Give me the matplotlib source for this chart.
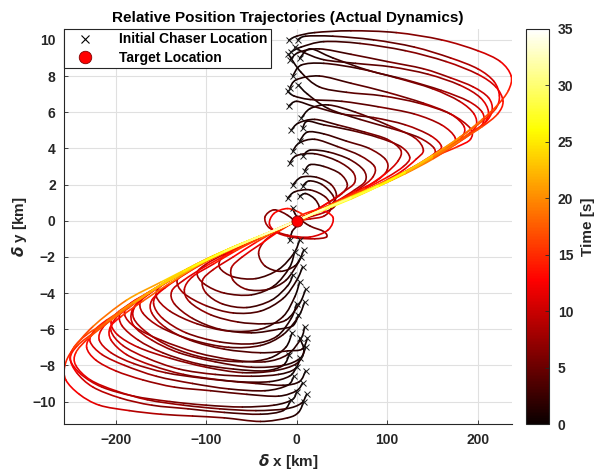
import numpy as np
import matplotlib
matplotlib.use("Agg")
import matplotlib.pyplot as plt
from matplotlib.collections import PatchCollection
from matplotlib.patches import PathPatch
from matplotlib.path import Path
from matplotlib.colors import Normalize
from matplotlib.cm import ScalarMappable
from matplotlib.lines import Line2D

plt.rcParams['font.family'] = ['Liberation Sans', 'DejaVu Sans']
plt.rcParams['font.weight'] = 'bold'
plt.rcParams['mathtext.fontset'] = 'dejavusans'

# ---------------- data: trajectories as (x [km], y [km], t [s]) ----------------
U01 = [(-8.5,9.98,0),(0,10.2,1),(20,10.4,2),(60,10.5,3.5),(110,10.4,5.5),(160,10.0,7.5),(200,9.4,9.5),(225,8.8,11.5),(237,8.0,13),(234,7.2,14.5),(222,6.4,16),(205,5.6,17.5),(180,4.6,19.5),(150,3.6,22),(120,2.7,24.5),(90,1.9,27),(60,1.25,29.5),(30,0.65,32),(0,0,34)]
U02 = [(-5.9,9.34,0),(5,9.6,1),(30,9.9,2),(70,9.8,3.5),(120,9.4,5.5),(165,8.8,7.5),(200,8.1,9.5),(220,7.4,11.5),(228,6.6,13),(222,5.9,14.5),(205,5.2,16),(180,4.4,18),(150,3.5,20.5),(120,2.65,23),(90,1.9,25.5),(60,1.25,28),(30,0.65,30.5),(0,0,32.5)]
U03 = [(1,10.0,0),(10,10.2,1),(40,10.2,2.5),(85,10.0,4),(130,9.6,5.5),(170,9.0,7.5),(200,8.4,9.5),(218,7.7,11),(224,6.9,12.5),(220,6.2,14),(205,5.5,15.5),(180,4.6,17.5),(150,3.6,20),(120,2.7,22.5),(90,1.95,25),(60,1.3,27.5),(30,0.65,30),(0,0,32)]
U04 = [(-7,8.88,0),(2,9.3,1),(25,9.5,2),(60,9.2,3.5),(100,8.8,5),(140,8.4,6.5),(170,7.9,8),(195,7.4,9.5),(212,6.8,11),(216,6.1,12.5),(208,5.4,14),(190,4.8,16),(165,4.0,18),(140,3.2,20),(110,2.4,22.5),(80,1.7,25),(50,1.05,27),(25,0.5,29),(0,0,31)]
U05 = [(3.3,8.97,0),(15,9.5,1),(40,9.0,2),(80,8.3,3.5),(120,7.8,5),(160,7.2,7),(190,6.6,9),(205,6.0,11),(206,5.4,12.5),(195,4.9,14),(175,4.2,16),(150,3.4,18),(120,2.6,20.5),(90,1.9,23),(60,1.2,25.5),(30,0.6,28),(0,0,30)]
U06 = [(-4.4,7.99,0),(5,8.6,1),(30,8.7,2),(70,8.4,3.5),(110,7.9,5),(150,7.3,7),(180,6.6,9),(196,5.9,11),(198,5.2,12.5),(185,4.6,14),(165,3.9,16),(140,3.2,18),(110,2.4,20.5),(80,1.7,23),(50,1.05,25.5),(25,0.5,27.5),(0,0,29.5)]
U07 = [(-7.7,7.33,0),(0,7.8,1),(25,8.0,2),(60,7.6,3.5),(100,7.1,5),(140,6.5,7),(170,5.9,9),(185,5.2,11),(182,4.6,12.5),(165,4.0,14),(140,3.25,16),(110,2.45,18.5),(80,1.75,21),(50,1.05,23.5),(25,0.5,25.5),(0,0,27.5)]
U08 = [(-10,7.16,0),(-3,6.9,1),(15,6.7,2),(50,6.6,3.5),(90,6.3,5),(130,5.9,7),(160,5.3,9),(175,4.6,11),(170,4.1,12.5),(150,3.5,14),(125,2.85,16),(100,2.15,18.5),(70,1.5,21),(40,0.85,23.5),(20,0.4,25.5),(0,0,27.5)]
U09 = [(-8.8,6.33,0),(0,6.6,1),(20,6.3,2),(50,5.9,3.5),(85,5.7,5),(120,5.3,7),(148,4.7,9),(160,4.1,11),(152,3.7,12.5),(130,3.0,14.5),(100,2.2,17),(70,1.55,19.5),(40,0.9,22),(20,0.45,24),(0,0,26)]
U10 = [(5.2,5.67,0),(15,6.2,1),(35,6.4,2),(65,6.0,3.5),(100,5.3,5.5),(130,4.6,7.5),(140,3.9,9.5),(132,3.4,11),(115,2.7,13),(90,2.0,15.5),(60,1.3,18),(35,0.75,20.5),(15,0.35,22.5),(0,0,24)]
U11 = [(6.6,5.12,0),(12,5.5,1),(30,5.3,2),(60,5.0,3.5),(90,4.6,5),(115,4.1,7),(125,3.5,9),(118,3.0,10.5),(100,2.4,12.5),(75,1.75,15),(50,1.1,17.5),(25,0.55,20),(0,0,22.5)]
U12 = [(3.3,4.4,0),(12,4.9,1),(30,4.8,2),(55,4.4,3.5),(80,4.0,5),(98,3.4,7),(100,2.8,8.5),(88,2.2,10.5),(65,1.6,13),(40,0.95,15.5),(20,0.45,17.5),(0,0,19.5)]
U13 = [(-4.4,3.85,0),(3,4.3,1),(20,4.5,2),(45,4.1,3.5),(70,3.6,5),(86,3.0,7),(84,2.4,8.5),(70,1.8,10.5),(50,1.2,12.5),(30,0.7,14.5),(12,0.3,16.5),(0,0,18)]
U14 = [(-7.7,3.19,0),(0,3.6,1),(20,3.7,2.5),(45,3.3,4),(62,2.7,6),(64,2.1,7.5),(52,1.6,9.5),(35,1.0,11.5),(18,0.5,13.5),(0,0,15.5)]
U15 = [(8.8,2.75,0),(15,3.1,1),(30,3.0,2.5),(48,2.6,4),(56,2.0,6),(50,1.5,7.5),(35,1.0,9.5),(18,0.5,11.5),(0,0,13.5)]
U16 = [(-4.4,1.97,0),(5,2.4,1),(22,2.4,2.5),(38,2.0,4),(44,1.4,6),(38,0.9,8),(22,0.5,10),(8,0.2,12),(0,0,13)]
U17 = [(6.6,1.92,0),(14,2.2,1),(28,2.0,2.5),(40,1.4,4.5),(42,0.8,6.5),(30,0.45,8.5),(14,0.2,10.5),(0,0,12)]
U18 = [(-10,1.24,0),(-2,1.6,1),(15,1.7,2.5),(32,1.3,4.5),(38,0.7,6.5),(30,0.25,8.5),(15,0.1,10),(0,0,11.5)]
U19 = [(3.3,1.35,0),(10,1.5,1),(20,1.2,2.5),(25,0.7,4.5),(18,0.35,6.5),(8,0.15,8),(0,0,9.5)]
U20 = [(-2,9.6,0),(8,9.3,1),(30,8.9,2),(65,8.7,3.5),(105,8.5,5),(145,8.1,6.5),(180,7.5,8.5),(203,6.8,10.5),(212,6.0,12),(206,5.3,13.5),(190,4.75,15),(165,4.0,17),(135,3.05,19.5),(105,2.25,22),(75,1.6,24.5),(45,0.95,27),(20,0.45,29),(0,0,31)]
U21 = [(2,7.5,0),(12,7.0,1),(35,6.2,2),(70,5.6,3.5),(105,5.1,5),(135,4.6,7),(152,4.0,9),(150,3.5,10.5),(135,3.05,12),(110,2.45,14.5),(80,1.75,17),(50,1.1,19.5),(25,0.55,22),(0,0,24)]
U22 = [(-6,5.0,0),(2,5.4,1),(20,5.6,2),(45,5.3,3.5),(75,4.9,5),(100,4.5,6.5),(115,3.9,8),(112,3.3,9.5),(98,2.6,11.5),(75,1.8,14),(50,1.15,16.5),(25,0.55,19),(0,0,21.5)]
U23 = [(-9,9.2,0),(5,8.2,1),(25,7.4,2),(55,7.1,3.5),(95,6.9,5),(135,6.5,6.5),(170,5.9,8.5),(192,5.1,10.5),(192,4.5,12),(178,4.1,13.5),(155,3.6,15.5),(125,2.85,18),(95,2.05,20.5),(65,1.35,23),(35,0.75,25.5),(0,0,28.5)]
U24 = [(7,3.6,0),(15,3.9,1),(35,3.8,2.5),(58,3.4,4),(74,2.8,5.5),(76,2.2,7),(64,1.7,9),(45,1.1,11),(25,0.6,13),(0,0,15.5)]

C01 = [(-4.4,0.7,0),(-2,0.4,1.5),(3,0.1,3),(15,-0.3,4.5),(30,-0.6,6),(33,-0.9,7.5),(20,-1.0,8.5),(0,-0.95,9.5),(-20,-0.7,10.5),(-30,-0.2,11.5),(-25,0.4,12.5),(-10,0.67,13.5),(5,0.4,14.5),(10,0.1,15.5),(0,0,16.5)]
C02 = [(-7.7,-1.07,0),(-5,-0.6,1.5),(0,-0.2,3),(-10,0.3,4.5),(-25,0.6,6),(-35,0.2,7.5),(-30,-0.4,8.5),(-10,-0.8,9.5),(15,-0.9,10.5),(35,-0.5,11.5),(40,0.2,12.5),(25,0.6,13.5),(5,0.3,14.5),(0,0,15.5)]

L01 = [(8,-10.0,0),(2,-10.6,1),(-10,-10.9,2),(-40,-11.1,3.5),(-80,-10.9,5),(-115,-10.8,6.5),(-150,-10.7,8),(-185,-10.5,9.5),(-218,-10.2,11),(-240,-9.6,12),(-255,-8.8,13),(-256,-8.0,14),(-247,-7.1,15.5),(-225,-5.85,17.5),(-188,-4.4,20),(-150,-3.4,22.5),(-110,-2.4,25.5),(-70,-1.5,28.5),(-35,-0.75,31.5),(0,0,34)]
L02 = [(0,-9.46,0),(-5,-9.9,1),(-25,-10.2,2),(-60,-10.3,3.5),(-100,-10.2,5),(-140,-10.0,6.5),(-180,-9.7,8),(-215,-9.2,9.5),(-238,-8.5,11),(-250,-7.7,12.5),(-246,-7.0,14),(-232,-6.3,15.5),(-210,-5.6,17.5),(-180,-4.55,20),(-150,-3.55,22.5),(-115,-2.55,25),(-80,-1.7,28),(-40,-0.85,31),(0,0,33.5)]
L03 = [(11,-9.6,0),(5,-10.1,1),(-12,-10.4,2),(-45,-10.5,3.5),(-85,-10.4,5),(-125,-10.2,6.5),(-165,-9.9,8),(-200,-9.4,9.5),(-228,-8.8,11),(-244,-8.0,12.5),(-244,-7.3,14),(-230,-6.5,15.5),(-205,-5.5,17.5),(-175,-4.4,20),(-140,-3.3,22.5),(-100,-2.2,25),(-60,-1.25,28),(-25,-0.55,30.5),(0,0,32.5)]
L04 = [(6.6,-8.97,0),(0,-9.4,1),(-20,-9.7,2),(-55,-9.6,3.5),(-95,-9.4,5),(-135,-9.2,6.5),(-170,-8.8,8),(-200,-8.3,9.5),(-222,-7.7,11),(-232,-7.0,12.5),(-226,-6.3,14),(-208,-5.5,16),(-180,-4.55,18.5),(-150,-3.55,21),(-115,-2.55,23.5),(-80,-1.7,26),(-40,-0.85,28.5),(0,0,31)]
L05 = [(-3,-8.6,0),(-10,-9.1,1),(-35,-9.4,2.5),(-75,-9.3,4),(-115,-9.0,5.5),(-155,-8.6,7),(-190,-8.0,8.5),(-215,-7.4,10),(-228,-6.7,11.5),(-224,-6.1,13),(-210,-5.5,14.5),(-185,-4.7,16.5),(-155,-3.7,19),(-120,-2.7,21.5),(-85,-1.8,24),(-50,-1.05,26.5),(-20,-0.45,29),(0,0,31)]
L06 = [(0,-8.09,0),(-8,-8.6,1),(-30,-8.9,2),(-65,-8.9,3.5),(-105,-8.7,5),(-145,-8.4,6.5),(-180,-7.9,8),(-205,-7.3,9.5),(-218,-6.6,11),(-214,-5.9,12.5),(-198,-5.2,14),(-175,-4.4,16),(-150,-3.55,18.5),(-120,-2.65,21),(-90,-1.9,23.5),(-55,-1.15,26),(-25,-0.55,28.5),(0,0,30.5)]
L07 = [(4,-7.6,0),(-2,-8.2,1),(-20,-8.5,2),(-50,-8.6,3.5),(-90,-8.5,5),(-130,-8.2,6.5),(-165,-7.6,8),(-192,-6.9,9.5),(-205,-6.1,11),(-200,-5.4,12.5),(-185,-4.8,14),(-160,-3.9,16.5),(-130,-2.95,19),(-100,-2.15,21.5),(-65,-1.35,24),(-30,-0.65,26.5),(0,0,29)]
L08 = [(3.3,-6.48,0),(8,-7.2,1),(0,-7.9,2),(-25,-8.3,3),(-60,-8.4,4.5),(-100,-8.1,6),(-140,-7.6,7.5),(-175,-7.0,9),(-198,-6.3,10.5),(-205,-5.6,12),(-196,-5.0,13.5),(-175,-4.35,15.5),(-150,-3.55,17.5),(-120,-2.65,20),(-90,-1.9,22.5),(-55,-1.15,25),(-25,-0.55,27.5),(0,0,29.5)]
L09 = [(10,-7.0,0),(4,-7.6,1),(-15,-8.0,2),(-50,-8.1,3.5),(-90,-7.8,5),(-130,-7.3,6.5),(-160,-6.6,8),(-180,-5.8,9.5),(-182,-5.0,11),(-170,-4.3,12.5),(-150,-3.6,14.5),(-120,-2.7,17),(-90,-1.95,19.5),(-55,-1.15,22),(-25,-0.55,24.5),(0,0,26.5)]
L10 = [(8.8,-5.87,0),(5,-6.5,1),(-10,-7.4,2),(-35,-7.8,3),(-70,-7.7,4.5),(-110,-7.3,6),(-150,-6.6,7.5),(-178,-5.9,9),(-190,-5.2,10.5),(-184,-4.6,12),(-165,-4.0,14),(-140,-3.25,16),(-110,-2.4,18.5),(-80,-1.7,21),(-45,-0.95,23.5),(-20,-0.45,25.5),(0,0,27.5)]
L11 = [(12,-6.5,0),(6,-7.1,1),(-10,-7.2,2),(-40,-7.3,3),(-80,-7.1,4.5),(-118,-6.6,6),(-145,-5.9,7.5),(-160,-5.1,9),(-160,-4.4,10.5),(-145,-3.7,12.5),(-120,-2.85,14.5),(-90,-2.0,17),(-60,-1.3,19.5),(-30,-0.65,22),(0,0,24.5)]
L12 = [(8.8,-4.5,0),(2,-5.3,1),(-15,-6.3,2),(-40,-6.9,3),(-75,-7.0,4.5),(-115,-6.6,6),(-150,-5.9,7.5),(-170,-5.1,9),(-172,-4.4,10.5),(-158,-3.85,12),(-135,-3.15,14),(-105,-2.3,16.5),(-75,-1.6,19),(-45,-0.95,21.5),(-20,-0.45,23.5),(0,0,25.5)]
L13 = [(2,-5.2,0),(-4,-5.8,1),(-20,-6.0,2),(-50,-6.2,3),(-85,-6.0,4.5),(-115,-5.4,6),(-135,-4.6,7.5),(-138,-3.9,9),(-125,-3.3,10.5),(-100,-2.5,12.5),(-70,-1.7,15),(-40,-0.95,17.5),(-15,-0.35,20),(0,0,21.5)]
L14 = [(3.3,-3.39,0),(-2,-4.2,1),(-15,-5.3,2),(-40,-6.0,3),(-75,-6.1,4.5),(-110,-5.7,6),(-140,-5.0,7.5),(-155,-4.2,9),(-150,-3.6,10.5),(-132,-3.0,12),(-105,-2.3,14.5),(-75,-1.6,17),(-45,-0.95,19.5),(-20,-0.45,21.5),(0,0,23.5)]
L15 = [(10,-3.8,0),(3,-4.6,1),(-12,-5.5,2),(-35,-5.7,3),(-65,-5.6,4.5),(-95,-5.2,6),(-118,-4.5,7.5),(-124,-3.8,9),(-115,-3.1,10.5),(-92,-2.4,12.5),(-65,-1.6,15),(-38,-0.9,17.5),(-15,-0.35,20),(0,0,21.5)]
L16 = [(6.6,-2.56,0),(0,-3.3,1),(-15,-4.3,2),(-40,-5.0,3),(-70,-5.1,4.5),(-100,-4.7,6),(-125,-4.0,7.5),(-132,-3.3,9),(-120,-2.8,10.5),(-95,-2.1,13),(-65,-1.4,15.5),(-35,-0.75,18),(-15,-0.3,20),(0,0,21.5)]
L17 = [(-4,-3.0,0),(-10,-3.6,1),(-28,-4.4,2),(-55,-4.8,3.5),(-82,-4.6,5),(-100,-4.0,6.5),(-104,-3.3,8),(-92,-2.7,9.5),(-70,-2.0,11.5),(-45,-1.2,14),(-20,-0.5,16.5),(0,0,18.5)]
L18 = [(-2.2,-1.73,0),(-8,-2.6,1),(-25,-3.6,2),(-50,-4.1,3.5),(-80,-4.0,5),(-102,-3.5,6.5),(-110,-2.9,8),(-100,-2.4,9.5),(-78,-1.8,11.5),(-50,-1.15,14),(-25,-0.55,16.5),(0,0,19)]
L19 = [(3.3,-1.07,0),(-3,-1.8,1),(-20,-2.7,2),(-45,-3.2,3.5),(-70,-3.1,5),(-85,-2.6,6.5),(-82,-2.0,8),(-65,-1.5,10),(-40,-0.9,12.5),(-18,-0.4,15),(0,0,17)]
L20 = [(5,-2.0,0),(-2,-2.5,1.5),(-18,-2.8,3),(-35,-2.5,5),(-42,-1.8,7),(-35,-1.1,9),(-18,-0.5,11),(0,0,13)]
L21 = [(-6,-9.9,0),(-15,-10.5,1),(-40,-10.7,2.5),(-80,-10.6,4),(-120,-10.4,5.5),(-160,-10.2,7),(-195,-9.8,8.5),(-225,-9.2,10),(-243,-8.4,11.5),(-250,-7.6,13),(-242,-6.9,14.5),(-222,-6.1,16.5),(-195,-5.0,19),(-160,-3.85,21.5),(-125,-2.8,24),(-90,-1.95,26.5),(-50,-1.05,29.5),(-20,-0.45,32),(0,0,34)]
L22 = [(10,-8.3,0),(3,-8.9,1),(-15,-9.1,2),(-45,-9.0,3.5),(-85,-8.8,5),(-125,-8.5,6.5),(-160,-8.0,8),(-188,-7.4,9.5),(-205,-6.6,11),(-206,-5.9,12.5),(-194,-5.3,14),(-170,-4.45,16.5),(-140,-3.45,19),(-105,-2.35,21.5),(-70,-1.5,24),(-35,-0.75,26.5),(0,0,29)]
L23 = [(-5,-6.2,0),(-12,-7.0,1),(-30,-7.6,2),(-60,-7.8,3.5),(-100,-7.6,5),(-138,-7.0,6.5),(-165,-6.2,8),(-180,-5.4,9.5),(-178,-4.7,11),(-163,-4.05,12.5),(-140,-3.3,14.5),(-110,-2.45,17),(-78,-1.7,19.5),(-45,-0.95,22),(-18,-0.4,24.5),(0,0,26.5)]
L24 = [(0,-4.6,0),(-6,-5.4,1),(-22,-6.4,2),(-48,-6.8,3.5),(-85,-6.7,5),(-122,-6.2,6.5),(-148,-5.4,8),(-158,-4.6,9.5),(-152,-3.95,11),(-133,-3.25,13),(-105,-2.4,15.5),(-75,-1.65,18),(-45,-0.95,20.5),(-20,-0.45,22.5),(0,0,24.5)]
L25 = [(8,-1.6,0),(2,-2.3,1),(-12,-3.3,2),(-32,-3.8,3.5),(-55,-3.8,5),(-70,-3.3,6.5),(-72,-2.6,8),(-60,-2.0,10),(-40,-1.3,12),(-20,-0.6,14),(0,0,16)]
L26 = [(-8,-7.4,0),(-15,-8.0,1),(-35,-8.3,2),(-70,-8.2,3.5),(-110,-7.9,5),(-148,-7.3,6.5),(-175,-6.6,8),(-193,-5.8,9.5),(-195,-5.1,11),(-183,-4.55,12.5),(-160,-3.9,14.5),(-130,-2.95,17),(-100,-2.15,19.5),(-65,-1.35,22),(-30,-0.65,24.5),(0,0,27)]

trajectories = [U01, U02, U03, U04, U05, U06, U07, U08, U09, U10, U11, U12, U13,
                U14, U15, U16, U17, U18, U19, U20, U21, U22, U23, U24, C01, C02,
                L01, L02, L03, L04, L05, L06, L07, L08, L09, L10, L11, L12, L13,
                L14, L15, L16, L17, L18, L19, L20, L21, L22, L23, L24, L25, L26]

target_x = [0.0]
target_y = [0.0]

t_min, t_max = 0, 35
x_ticks = [-200, -100, 0, 100, 200]
y_ticks = [-10, -8, -6, -4, -2, 0, 2, 4, 6, 8, 10]
cb_ticks = [0, 5, 10, 15, 20, 25, 30, 35]

# ---------------- figure ----------------
fig = plt.figure(figsize=(6.01, 4.75), dpi=100)
ax = fig.add_axes([0.1065, 0.107, 0.7455, 0.832])
cax = fig.add_axes([0.876, 0.107, 0.038, 0.832])

norm = Normalize(vmin=t_min, vmax=t_max)
cmap = plt.get_cmap('hot')

# smooth Bezier pieces between the read points, each coloured by its time;
# later pieces drawn on top
pieces = []
for tr in trajectories:
    arr = np.array(tr, dtype=float)
    P = arr[:, :2]
    n = len(P)
    for i in range(n - 1):
        p0 = P[i - 1] if i > 0 else P[i]
        p1, p2 = P[i], P[i + 1]
        p3 = P[i + 2] if i + 2 < n else P[i + 1]
        c1 = p1 + (p2 - p0) / 6.0
        c2 = p2 - (p3 - p1) / 6.0
        path = Path([p1, c1, c2, p2],
                    [Path.MOVETO, Path.CURVE4, Path.CURVE4, Path.CURVE4])
        pieces.append((0.5 * (arr[i, 2] + arr[i + 1, 2]), path))
pieces.sort(key=lambda p: p[0])
patches = [PathPatch(p[1]) for p in pieces]
colors = [cmap(norm(p[0])) for p in pieces]
pc = PatchCollection(patches, facecolors='none', edgecolors=colors,
                     linewidths=1.2, capstyle='round', joinstyle='round', zorder=2)
ax.add_collection(pc)

init_x = [tr[0][0] for tr in trajectories]
init_y = [tr[0][1] for tr in trajectories]
ax.plot(init_x, init_y, linestyle='none', marker='x', color='#1a1a1a',
        markersize=4.5, markeredgewidth=0.7, zorder=3)
ax.plot(target_x, target_y, linestyle='none', marker='o', markersize=8,
        markerfacecolor='red', markeredgecolor='#800000', markeredgewidth=0.6, zorder=4)

ax.set_xlim(-257, 238)
ax.set_ylim(-11.25, 10.6)
ax.set_xticks(x_ticks)
ax.set_yticks(y_ticks)
ax.grid(True, color='#e0e0e0', linewidth=0.8, zorder=0)
ax.set_axisbelow(True)
for s in ['top', 'right']:
    ax.spines[s].set_visible(False)
for s in ['left', 'bottom']:
    ax.spines[s].set_color('#262626')
    ax.spines[s].set_linewidth(0.8)
ax.tick_params(direction='in', length=3, width=0.6, colors='#262626',
               labelsize=10, pad=6)
for lab in ax.get_xticklabels() + ax.get_yticklabels():
    lab.set_fontweight('bold')
ax.set_xlabel(r'$\delta$ x [km]', fontsize=11, fontweight='bold', color='#262626', labelpad=4)
ax.set_ylabel(r'$\delta$ y [km]', fontsize=11, fontweight='bold', color='#262626', labelpad=2)
ax.set_title('Relative Position Trajectories (Actual Dynamics)', fontsize=11,
             fontweight='bold', pad=5)

handles = [Line2D([], [], linestyle='none', marker='x', color='black',
                  markersize=6, markeredgewidth=0.8),
           Line2D([], [], linestyle='none', marker='o', markersize=9,
                  markerfacecolor='red', markeredgecolor='#800000', markeredgewidth=0.6)]
leg = ax.legend(handles, ['Initial Chaser Location', 'Target Location'],
                loc='upper left', bbox_to_anchor=(0, 1), borderaxespad=0,
                fancybox=False, framealpha=1, edgecolor='#262626',
                prop={'weight': 'bold', 'size': 10}, handletextpad=1.2,
                borderpad=0.25, labelspacing=0.3, handlelength=2.5)
leg.get_frame().set_linewidth(0.8)
leg.set_zorder(10)

sm = ScalarMappable(norm=norm, cmap=cmap)
sm.set_array([])
cb = fig.colorbar(sm, cax=cax, ticks=cb_ticks)
cb.outline.set_edgecolor('#262626')
cb.outline.set_linewidth(0.8)
cax.tick_params(direction='in', length=3, width=0.6, colors='#262626',
                labelsize=10, pad=6)
for lab in cax.get_yticklabels():
    lab.set_fontweight('bold')
cb.set_label('Time [s]', fontsize=11, fontweight='bold', color='#262626', labelpad=6)

fig.savefig('out.png', dpi=100)
